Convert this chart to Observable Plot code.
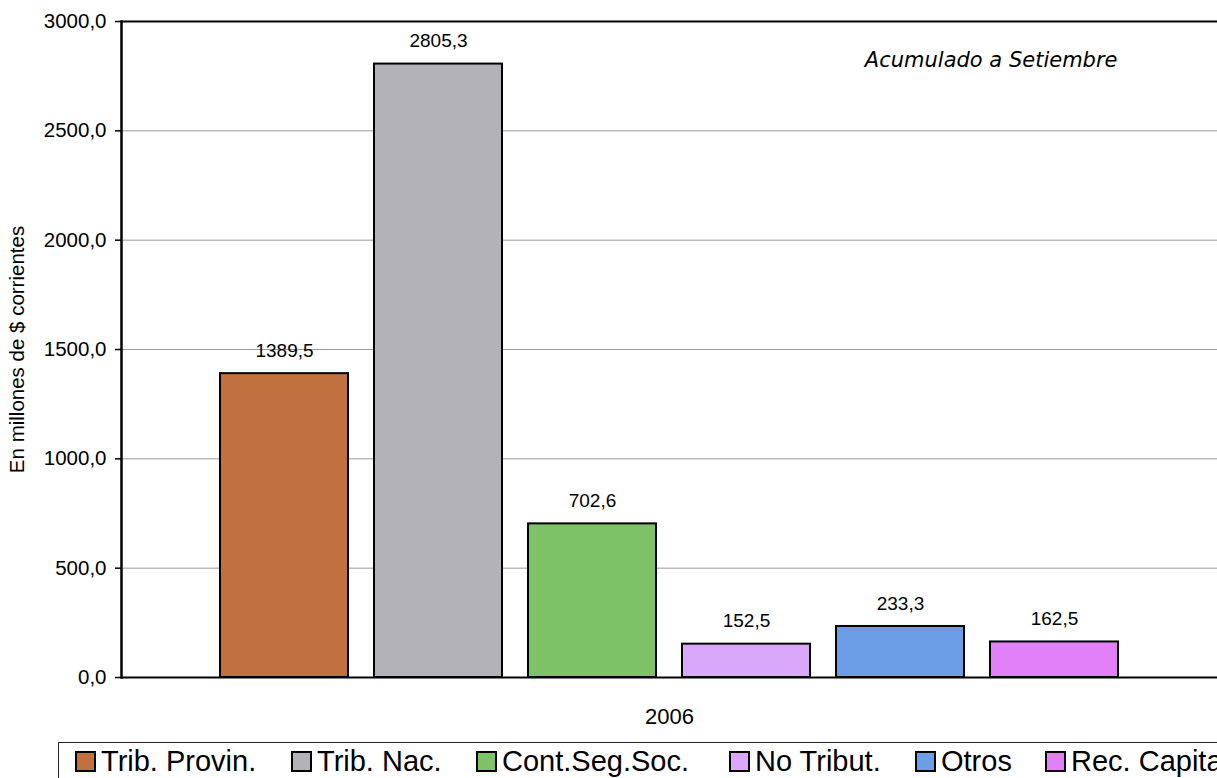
<!DOCTYPE html>
<html>
<head>
<meta charset="utf-8">
<script src="https://cdn.jsdelivr.net/npm/d3@7"></script>
<script src="https://cdn.jsdelivr.net/npm/@observablehq/plot@0.6"></script>
<style>
  html, body { margin: 0; padding: 0; background: #fff; overflow: hidden; }
  #wrap { position: relative; width: 1217px; height: 778px; overflow: hidden; font-family: "Liberation Sans", Arial, sans-serif; }
  #legend { position: absolute; left: 58px; top: 742px; width: 1200px; height: 60px; border: 1.5px solid #222; box-sizing: border-box; }
  .item { position: absolute; top: 4px; display: flex; align-items: center; font-size: 29px; line-height: 29px; color: #000; white-space: nowrap; }
  .sw { width: 17px; height: 17px; border: 2px solid #000; margin-right: 5px; }
</style>
</head>
<body>
<div id="wrap">
  <div id="chart"></div>
  <div id="legend"></div>
</div>
<script>
const categories = ["Trib. Provin.", "Trib. Nac.", "Cont.Seg.Soc.", "No Tribut.", "Otros", "Rec. Capita"];
const values = [1389.5, 2805.3, 702.6, 152.5, 233.3, 162.5];
const colors = ["#c1713f", "#b3b2b7", "#7dc266", "#daa8fa", "#6c9ee8", "#e280fa"];
const yTicks = [0, 500, 1000, 1500, 2000, 2500, 3000];
const year = "2006";
const annotation = "Acumulado a Setiembre";
const yLabel = "En millones de $ corrientes";
const legendLeft = [16, 232, 417, 670, 856, 986];

const data = categories.map((c, i) => ({cat: c, value: values[i]}));
const fmt = v => v.toFixed(1).replace(".", ",");

const chart = Plot.plot({
  width: 1217, height: 742,
  marginTop: 21, marginLeft: 121, marginRight: 0, marginBottom: 65,
  style: {fontFamily: "'Liberation Sans', Arial, sans-serif", fontSize: "19px", background: "white", color: "black"},
  x: {domain: categories, paddingInner: 0.1677, paddingOuter: 0.6194, axis: null},
  y: {domain: [0, 3000], axis: null},
  color: {domain: categories, range: colors},
  marks: [
    Plot.ruleY(yTicks.slice(1, -1), {stroke: "#999999", strokeWidth: 1}),
    Plot.barY(data, {x: "cat", y: "value", fill: "cat", stroke: "black", strokeWidth: 2}),
    Plot.ruleY([0, 3000], {stroke: "black", strokeWidth: 2}),
    Plot.frame({anchor: "left", stroke: "black", strokeWidth: 2.5}),
    Plot.axisY({ticks: yTicks, tickSize: 6, tickPadding: 9, tickFormat: fmt, fontSize: 20.5, stroke: "black", strokeWidth: 1.5, label: null}),
    Plot.text(data, {x: "cat", y: "value", text: d => fmt(d.value), dy: -23, lineAnchor: "middle", fontSize: 19}),
    Plot.text([year], {text: d => d, frameAnchor: "bottom", dy: 39, lineAnchor: "middle", fontSize: 22}),
    Plot.text([yLabel], {text: d => d, frameAnchor: "left", dx: -104, rotate: -90, textAnchor: "middle", lineAnchor: "middle", fontSize: 20.5}),
    Plot.text([annotation], {text: d => d, frameAnchor: "top-right", dx: -100, dy: 39, textAnchor: "end", lineAnchor: "middle", fontStyle: "italic", fontSize: 21, fontFamily: "'DejaVu Sans', sans-serif"})
  ]
});
document.getElementById("chart").appendChild(chart);

const legend = document.getElementById("legend");
categories.forEach((c, i) => {
  const it = document.createElement("div");
  it.className = "item";
  it.style.left = legendLeft[i] + "px";
  const sw = document.createElement("div");
  sw.className = "sw";
  sw.style.background = colors[i];
  const tx = document.createElement("span");
  tx.textContent = c;
  it.appendChild(sw);
  it.appendChild(tx);
  legend.appendChild(it);
});
</script>
</body>
</html>
